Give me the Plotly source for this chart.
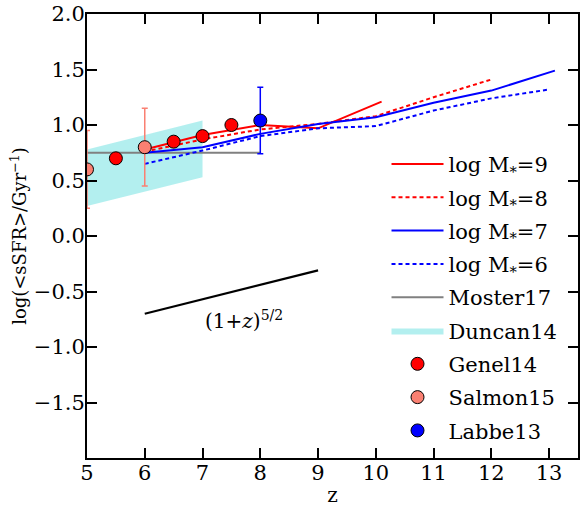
import plotly.graph_objects as go

# ---- data ----
z_m9 = [6, 7, 8, 9, 10.1]
s_m9 = [0.78, 0.91, 1.00, 0.97, 1.21]
z_m8 = [6, 7, 8, 9, 10, 11, 12]
s_m8 = [0.76, 0.87, 0.96, 1.01, 1.08, 1.25, 1.41]
z_m7 = [6, 7, 8, 9, 10, 11, 12, 13.1]
s_m7 = [0.75, 0.80, 0.92, 1.01, 1.07, 1.20, 1.31, 1.49]
z_m6 = [6, 7, 8, 9, 10, 11, 12, 13]
s_m6 = [0.65, 0.77, 0.90, 0.97, 0.99, 1.13, 1.24, 1.32]

moster_z = [5, 8]
moster_s = [0.75, 0.75]

duncan_z = [5, 7]
duncan_lo = [0.27, 0.53]
duncan_hi = [0.78, 1.04]

genel_z = [5.5, 6.5, 7.0, 7.5]
genel_s = [0.70, 0.85, 0.90, 1.00]

salmon_z = [5, 6]
salmon_s = [0.60, 0.80]
salmon_err = [0.35, 0.35]

labbe_z = [8]
labbe_s = [1.04]
labbe_err = [0.30]

slope_z = [6, 9]
slope_s = [-0.70, -0.31]

yticks = [-1.5, -1.0, -0.5, 0.0, 0.5, 1.0, 1.5, 2.0]
xticks = [5, 6, 7, 8, 9, 10, 11, 12, 13]

FONT = "DejaVu Serif, serif"
TF = dict(family=FONT, size=21, color="black")

fig = go.Figure()

# Duncan14 band
fig.add_trace(go.Scatter(
    x=duncan_z + duncan_z[::-1], y=duncan_hi + duncan_lo[::-1],
    fill="toself", fillcolor="rgba(175,238,238,0.95)", line=dict(width=0),
    mode="lines", name="Duncan14", legendrank=6, legendgroup="g6", textfont=TF))

fig.add_trace(go.Scatter(x=moster_z, y=moster_s, mode="lines",
                         line=dict(color="gray", width=2), name="Moster17",
                         legendrank=5, legendgroup="g5", textfont=TF))

fig.add_trace(go.Scatter(x=z_m9, y=s_m9, mode="lines", line=dict(color="red", width=2),
                         name="log M<sub>*</sub>=9", legendrank=1, legendgroup="g1", textfont=TF))
fig.add_trace(go.Scatter(x=z_m8, y=s_m8, mode="lines",
                         line=dict(color="red", width=2, dash="4px,3px"),
                         name="log M<sub>*</sub>=8", legendrank=2, legendgroup="g2", textfont=TF))
fig.add_trace(go.Scatter(x=z_m7, y=s_m7, mode="lines", line=dict(color="blue", width=2),
                         name="log M<sub>*</sub>=7", legendrank=3, legendgroup="g3", textfont=TF))
fig.add_trace(go.Scatter(x=z_m6, y=s_m6, mode="lines",
                         line=dict(color="blue", width=2, dash="4px,3px"),
                         name="log M<sub>*</sub>=6", legendrank=4, legendgroup="g4", textfont=TF))

fig.add_trace(go.Scatter(x=slope_z, y=slope_s, mode="lines",
                         line=dict(color="black", width=2.2), showlegend=False))

fig.add_trace(go.Scatter(x=genel_z, y=genel_s, mode="markers",
                         marker=dict(color="red", size=13, line=dict(color="black", width=1)),
                         name="Genel14", legendrank=7, legendgroup="g7", textfont=TF))
fig.add_trace(go.Scatter(x=salmon_z, y=salmon_s, mode="markers",
                         error_y=dict(type="data", array=salmon_err, color="salmon",
                                      thickness=1.5, width=3),
                         marker=dict(color="salmon", size=13, line=dict(color="black", width=1)),
                         name="Salmon15", legendrank=8, legendgroup="g8", textfont=TF))
fig.add_trace(go.Scatter(x=labbe_z, y=labbe_s, mode="markers",
                         error_y=dict(type="data", array=labbe_err, color="blue",
                                      thickness=1.5, width=3),
                         marker=dict(color="blue", size=13, line=dict(color="black", width=1)),
                         name="Labbe13", legendrank=9, legendgroup="g9", textfont=TF))

fig.add_annotation(x=7.72, y=-0.76, text="(1+<i>z</i>)<sup>5/2</sup>", showarrow=False,
                   font=dict(family=FONT, size=20, color="black"))

axis_common = dict(showline=True, linecolor="black", linewidth=2, mirror="ticks",
                   ticks="inside", ticklen=10, tickwidth=1.5, tickcolor="black",
                   showgrid=False, zeroline=False,
                   tickfont=dict(family=FONT, size=21, color="black"))

fig.update_xaxes(range=[5, 13.5], tickvals=xticks, ticktext=[str(v) for v in xticks],
                 ticklabelstandoff=-5,
                 title=dict(text="z", font=dict(family=FONT, size=20, color="black"), standoff=7),
                 **axis_common)
fig.update_yaxes(range=[-2, 2], tickvals=yticks,
                 ticktext=[("\u2212" if v < 0 else "") + f"{abs(v):.1f}" for v in yticks],
                 ticklabelstandoff=-4,
                 title=dict(text="log(&lt;sSFR&gt;/Gyr<sup>\u22121</sup>)",
                            font=dict(family=FONT, size=18, color="black"), standoff=2),
                 **axis_common)

fig.update_layout(
    width=581, height=507,
    margin=dict(l=87, r=1, t=14, b=47),
    plot_bgcolor="white", paper_bgcolor="white",
    font=dict(family=FONT, color="black"),
    legend=dict(x=0.61, y=0.7075, xanchor="left", yanchor="top",
                bgcolor="rgba(0,0,0,0)", borderwidth=0,
                font=dict(family=FONT, size=21, color="black"), tracegroupgap=3,
                itemwidth=52),
)

fig.write_html("out.html")
